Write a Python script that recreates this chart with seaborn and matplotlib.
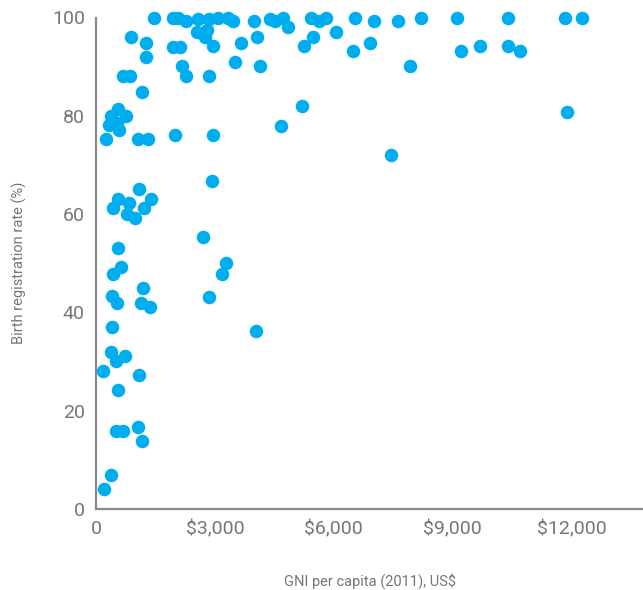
import matplotlib
matplotlib.use("Agg")
import matplotlib.pyplot as plt
import matplotlib.ticker as mticker
import pandas as pd
import seaborn as sns

# GNI per capita (2011), US$
gni = [1475, 1954, 2080, 2282, 2584, 2861, 3088, 3340, 3466, 2559,
       2811, 2760, 3996, 4399, 4525, 4727, 4853, 895, 1273, 1273,
       1954, 2130, 2962, 3668, 4071, 2181, 2282, 2861, 3517, 4147,
       693, 870, 1172, 567, 391, 769, 340, 542, 592, 240,
       1071, 1324, 2004, 2962, 2937, 1097, 567, 845, 1399, 441,
       1223, 794, 996, 2710, 567, 643, 441, 3290, 3189, 1197,
       416, 542, 1147, 1374, 2861, 416, 4046, 366, 744, 517,
       189, 1097, 567, 517, 693, 1071, 1172, 366, 214,
       5433, 5634, 5811, 5483, 5256, 6063, 6542, 7021, 7626, 8206,
       9113, 6492, 6920, 9214, 7929, 5206, 4676, 7450, 9693, 10399,
       10399, 10702, 11836, 12265, 11887]

# Birth registration rate (%)
birth_reg = [100, 100, 100, 99.2, 99.6, 99.6, 100, 100, 99.2, 97.1,
             97.4, 96.1, 99.2, 99.6, 99.2, 100, 98, 96.1, 94.9, 91.9,
             93.9, 93.9, 94.1, 94.9, 96.1, 90.2, 88, 88, 91, 90.2,
             88, 88, 84.9, 81.3, 80, 80, 78.2, 78.6, 77.2, 75.2,
             75.2, 75.2, 76, 76, 66.8, 65.2, 63.1, 62.3, 63.1, 61.3,
             61.3, 60.1, 59.3, 55.4, 53.2, 49.3, 47.9, 50.1, 47.9, 45,
             43.4, 42, 42, 41.1, 43.2, 37.1, 36.3, 32, 31.2, 30.1,
             28.1, 27.3, 24.2, 15.9, 15.9, 16.7, 13.8, 6.9, 4.1,
             100, 99.2, 100, 96.1, 94.1, 97.1, 100, 99.2, 99.2, 100,
             100, 93.1, 94.9, 93.1, 90.2, 81.9, 78, 72.1, 94.1, 100,
             94.1, 93.1, 100, 100, 80.7]

df = pd.DataFrame({"gni": gni, "birth_reg": birth_reg})

sns.set_style("white")
plt.rcParams["font.family"] = ["Roboto", "DejaVu Sans"]

grey = "#8a8a8a"
text_grey = "#767676"

fig = plt.figure(figsize=(6.43, 5.9), dpi=100)
ax = fig.add_axes([96 / 643, 81 / 590, 547 / 643, 491.5 / 590])

sns.scatterplot(data=df, x="gni", y="birth_reg", ax=ax, color="#00aeef",
                s=95, linewidth=0, alpha=1, clip_on=False, zorder=3)

ax.set_xlim(0, 13800)
ax.set_ylim(0, 100)
ax.set_xticks([0, 3000, 6000, 9000, 12000])
ax.xaxis.set_major_formatter(mticker.FuncFormatter(
    lambda v, p: "0" if v == 0 else f"${int(v):,}"))
ax.set_yticks([0, 20, 40, 60, 80, 100])

for side in ["top", "right"]:
    ax.spines[side].set_visible(False)
for side in ["left", "bottom"]:
    ax.spines[side].set_color(grey)
    ax.spines[side].set_linewidth(1.6)

ax.tick_params(axis="both", direction="in", length=10, width=1.6,
               color=grey, labelcolor=text_grey, labelsize=14, pad=8)

ax.set_xlabel("GNI per capita (2011), US$", fontsize=10.5, color=text_grey,
              labelpad=25)
ax.set_ylabel("Birth registration rate (%)", fontsize=10.5, color=text_grey,
              labelpad=18)

fig.savefig("out.png", dpi=100)
